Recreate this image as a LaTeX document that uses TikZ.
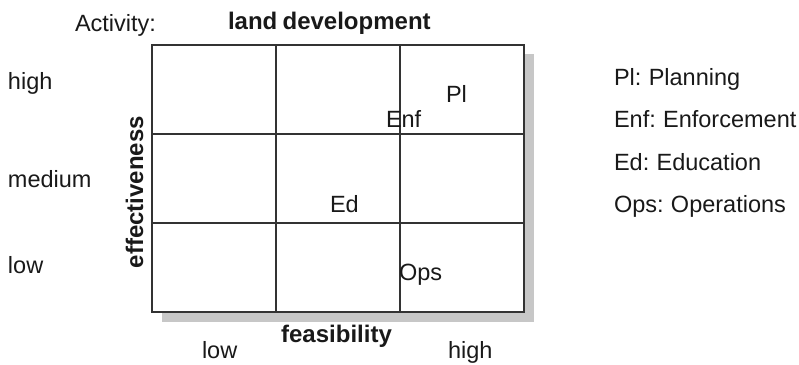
\documentclass[tikz,border=0pt]{standalone}
\usepackage{fontspec}
\setmainfont{Liberation Sans}
\newcommand\mytightsp{\spaceskip=0.22em plus 0.1em minus 0.05em\relax}
\begin{document}
\begin{tikzpicture}[x=1pt,y=-1pt,
  txt/.style={inner sep=0pt,outer sep=0pt,font=\fontsize{23.5}{28}\selectfont\mytightsp,text=black!90},
  btxt/.style={txt,font=\fontsize{24}{28}\selectfont\bfseries\mytightsp},
  gridline/.style={draw=black!80,line width=1.4pt},
  shadowfill/.style={fill=black!22,draw=none}]
\useasboundingbox (0,0) rectangle (799,364);
% shadow
\fill[shadowfill] (162,54) rectangle (534,322);
\fill[white] (152,45) rectangle (524,312);
% grid
\draw[gridline] (152,45) rectangle (524,312);
\draw[gridline] (276,45) -- (276,312);
\draw[gridline] (400,45) -- (400,312);
\draw[gridline] (152,134) -- (524,134);
\draw[gridline] (152,223) -- (524,223);
% titles
\node[txt,anchor=base west] (act) at (75,31) {Activity:};
\node[btxt,anchor=base west] (ttl) at (228,29) {land development};
% y labels
\node[txt,anchor=base west] (yhi) at (8,89) {high};
\node[txt,anchor=base west] (ymed) at (8,187) {medium};
\node[txt,anchor=base west] (ylo) at (8,273) {low};
\node[btxt,rotate=90,anchor=base] (eff) at (143,192) {effectiveness};
% x labels
\node[btxt,anchor=base] (feas) at (336.5,342) {feasibility};
\node[txt,anchor=base west] (xlo) at (202,358) {low};
\node[txt,anchor=base west] (xhi) at (448,358) {high};
% items
\node[txt,anchor=base west] (pl) at (446,102.7) {Pl};
\node[txt,anchor=base west] (enf) at (386,127.7) {Enf};
\node[txt,anchor=base west] (ed) at (330,212.7) {Ed};
\node[txt,anchor=base west] (ops) at (399,280) {Ops};
% legend
\node[txt,anchor=base west] (l1) at (614,85) {Pl: Planning};
\node[txt,anchor=base west] (l2) at (614,127.5) {Enf: Enforcement};
\node[txt,anchor=base west] (l3) at (614,170) {Ed: Education};
\node[txt,anchor=base west] (l4) at (614,212.5) {Ops: Operations};
\end{tikzpicture}
\end{document}
